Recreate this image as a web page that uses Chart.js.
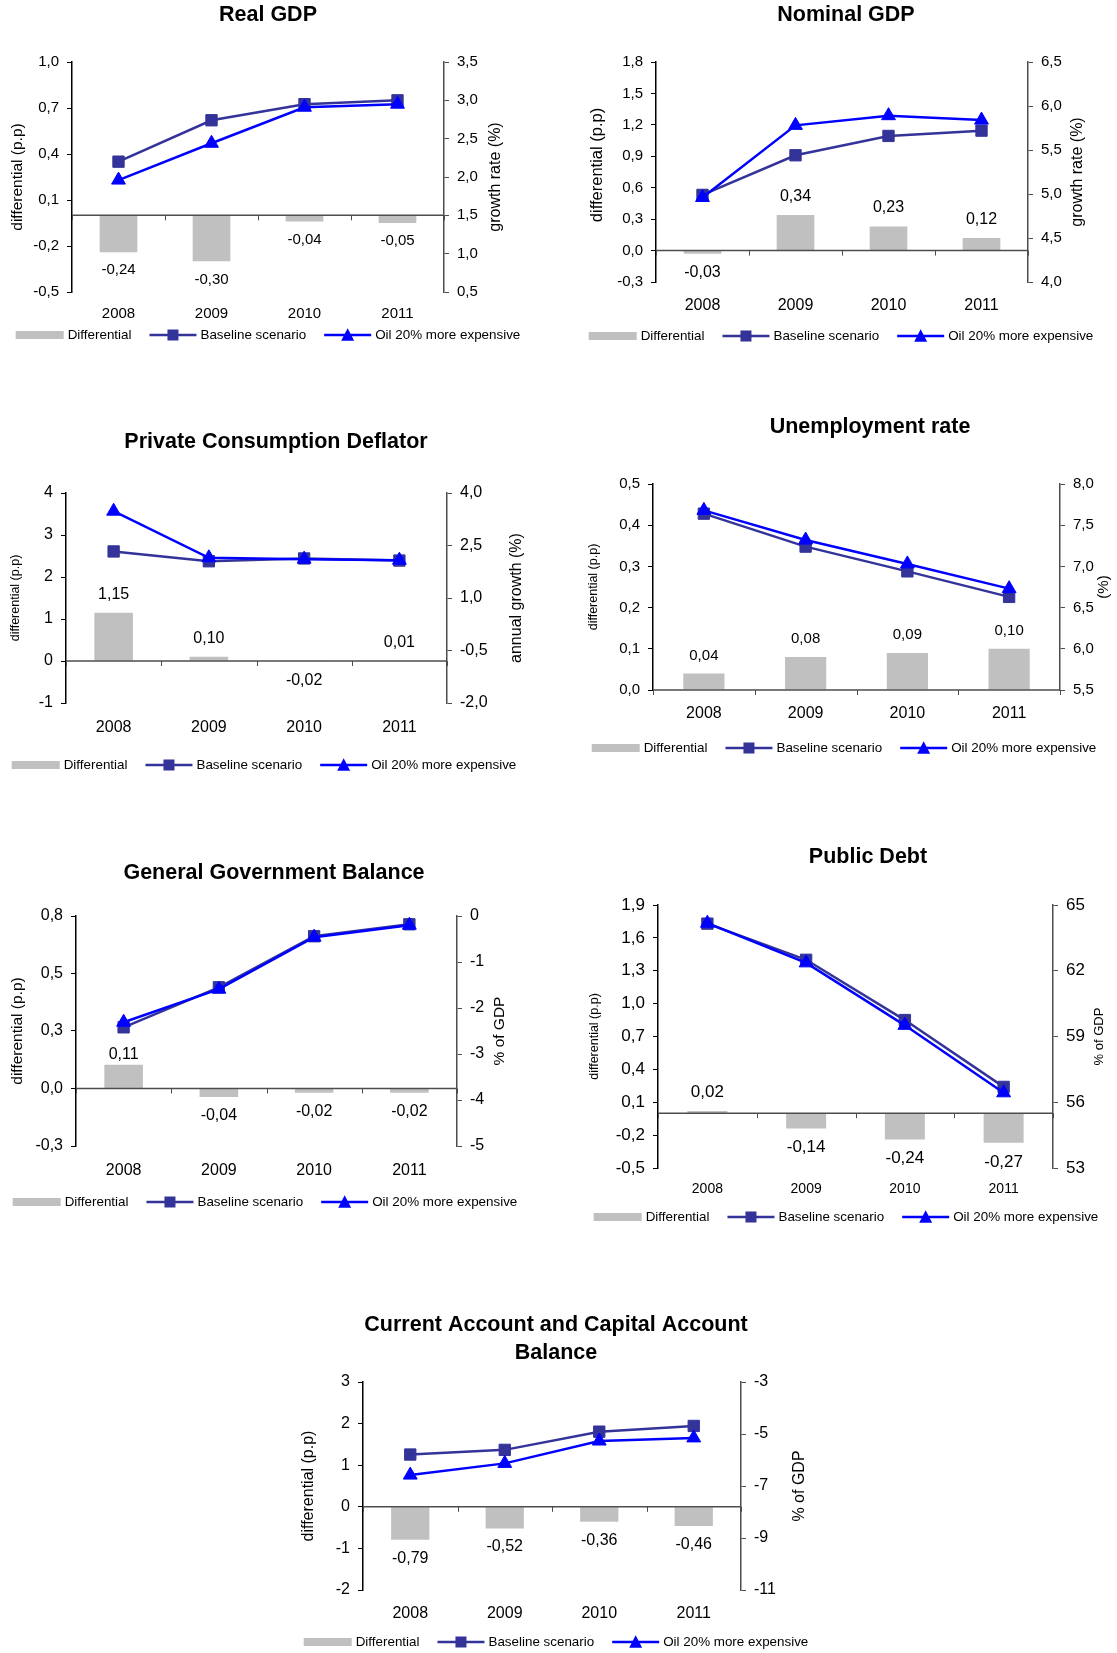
<!DOCTYPE html>
<html><head><meta charset="utf-8">
<script src="https://cdn.jsdelivr.net/npm/chart.js@4.4.1/dist/chart.umd.min.js"></script>
<style>
html,body{margin:0;padding:0;background:#fff;}
body{width:1117px;height:1653px;position:relative;overflow:hidden;}
canvas{position:absolute;}
</style></head><body>
<script>
// ---------- DATA ----------
const years = ['2008','2009','2010','2011'];
const seriesNames = ['Differential','Baseline scenario','Oil 20% more expensive'];

const realGdpDiff = [-0.24,-0.30,-0.04,-0.05];
const realGdpBase = [2.20,2.74,2.95,3.00];
const realGdpOil  = [1.96,2.44,2.91,2.95];
const realGdpLeftTicks  = [-0.5,-0.2,0.1,0.4,0.7,1.0];
const realGdpRightTicks = [0.5,1.0,1.5,2.0,2.5,3.0,3.5];

const nomGdpDiff = [-0.03,0.34,0.23,0.12];
const nomGdpBase = [4.99,5.44,5.66,5.72];
const nomGdpOil  = [4.96,5.78,5.89,5.84];
const nomGdpLeftTicks  = [-0.3,0.0,0.3,0.6,0.9,1.2,1.5,1.8];
const nomGdpRightTicks = [4.0,4.5,5.0,5.5,6.0,6.5];

const pcdDiff = [1.15,0.10,-0.02,0.01];
const pcdBase = [2.33,2.05,2.13,2.07];
const pcdOil  = [3.48,2.15,2.11,2.08];
const pcdLeftTicks  = [-1,0,1,2,3,4];
const pcdRightTicks = [-2.0,-0.5,1.0,2.5,4.0];

const unempDiff = [0.04,0.08,0.09,0.10];
const unempBase = [7.64,7.24,6.94,6.63];
const unempOil  = [7.68,7.32,7.03,6.73];
const unempLeftTicks  = [0,0.1,0.2,0.3,0.4,0.5];
const unempRightTicks = [5.5,6.0,6.5,7.0,7.5,8.0];

const ggbDiff = [0.11,-0.04,-0.02,-0.02];
const ggbBase = [-2.42,-1.55,-0.44,-0.18];
const ggbOil  = [-2.31,-1.59,-0.46,-0.20];
const ggbLeftTicks  = [-0.2667,0,0.2667,0.5333,0.8];
const ggbRightTicks = [-5,-4,-3,-2,-1,0];

const debtDiff = [0.02,-0.14,-0.24,-0.27];
const debtBase = [64.15,62.50,59.75,56.70];
const debtOil  = [64.17,62.36,59.51,56.43];
const debtLeftTicks  = [-0.5,-0.2,0.1,0.4,0.7,1.0,1.3,1.6,1.9];
const debtRightTicks = [53,56,59,62,65];

const caDiff = [-0.79,-0.52,-0.36,-0.46];
const caBase = [-5.79,-5.61,-4.91,-4.69];
const caOil  = [-6.58,-6.13,-5.27,-5.15];
const caLeftTicks  = [-2,-1,0,1,2,3];
const caRightTicks = [-11,-9,-7,-5,-3];

// ---------- STYLE / LAYOUT ----------
const FONT = "'Liberation Sans', Arial, Helvetica, sans-serif";
const BAR_COLOR = '#C0C0C0', BASE_COLOR = '#333399', OIL_COLOR = '#0000FF', AXIS_GRAY = '#4d4d4d';

const charts = [
 {title:['Real GDP'], tx:268, ty:[15], box:[0,0,556,360], plot:[72,62,444,292],
  diff:realGdpDiff, base:realGdpBase, oil:realGdpOil, lt:realGdpLeftTicks, rt:realGdpRightTicks, ld:1, rd:1,
  lTitle:'differential (p.p)', lTitleX:18, lTitleSize:15.5, rTitle:'growth rate (%)', rTitleX:496, rTitleSize:16,
  tickSize:15, xSize:15, xLabelY:313, dataSize:15, posGap:14, legX:268, legY:335},
 {title:['Nominal GDP'], tx:846, ty:[15], box:[558,0,559,360], plot:[656,62,1028,282],
  diff:nomGdpDiff, base:nomGdpBase, oil:nomGdpOil, lt:nomGdpLeftTicks, rt:nomGdpRightTicks, ld:1, rd:1,
  lTitle:'differential (p.p)', lTitleX:597, lTitleSize:16.5, lTitleY:165, rTitle:'growth rate (%)', rTitleX:1078, rTitleSize:16,
  tickSize:15, xSize:16, xLabelY:305, dataSize:16, posGap:14, legX:841, legY:336},
 {title:['Private Consumption Deflator'], tx:276, ty:[442], box:[0,390,556,400], plot:[66,493,447,703],
  diff:pcdDiff, base:pcdBase, oil:pcdOil, lt:pcdLeftTicks, rt:pcdRightTicks, ld:0, rd:1,
  lTitle:'differential (p.p)', lTitleX:16, lTitleSize:12.5, rTitle:'annual growth (%)', rTitleX:517, rTitleSize:16,
  tickSize:16, xSize:16, xLabelY:727, dataSize:16, posGap:14, legX:264, legY:765},
 {title:['Unemployment rate'], tx:870, ty:[427], box:[558,390,559,400], plot:[653,484,1060,690],
  diff:unempDiff, base:unempBase, oil:unempOil, lt:unempLeftTicks, rt:unempRightTicks, ld:1, rd:1,
  lTitle:'differential (p.p)', lTitleX:594, lTitleSize:12.5, rTitle:'(%)', rTitleX:1104, rTitleSize:15,
  tickSize:15, xSize:16, xLabelY:713, dataSize:15, posGap:14, legX:844, legY:748},
 {title:['General Government Balance'], tx:274, ty:[873], box:[0,830,556,410], plot:[76,916,457,1146],
  diff:ggbDiff, base:ggbBase, oil:ggbOil, lt:ggbLeftTicks, rt:ggbRightTicks, ld:1, rd:0,
  lTitle:'differential (p.p)', lTitleX:18, lTitleSize:15.5, rTitle:'% of GDP', rTitleX:500, rTitleSize:15.5,
  tickSize:16, xSize:16, xLabelY:1170, dataSize:16, posGap:6, legX:265, legY:1202},
 {title:['Public Debt'], tx:868, ty:[857], box:[558,830,559,410], plot:[658,905,1053,1168],
  diff:debtDiff, base:debtBase, oil:debtOil, lt:debtLeftTicks, rt:debtRightTicks, ld:1, rd:0,
  lTitle:'differential (p.p)', lTitleX:595, lTitleSize:12.5, rTitle:'% of GDP', rTitleX:1099, rTitleSize:13,
  tickSize:17, xSize:14, xLabelY:1188, dataSize:17, posGap:14, legX:846, legY:1217},
 {title:['Current Account and Capital Account','Balance'], tx:556, ty:[1325,1353], box:[280,1290,540,363], plot:[363,1382,741,1590],
  diff:caDiff, base:caBase, oil:caOil, lt:caLeftTicks, rt:caRightTicks, ld:0, rd:0,
  lTitle:'differential (p.p)', lTitleX:309, lTitleSize:16, rTitle:'% of GDP', rTitleX:800, rTitleSize:16,
  tickSize:16, xSize:16, xLabelY:1613, dataSize:16, posGap:14, legX:556, legY:1642}
];

function fmt(v, d){
  let s = Number(v).toFixed(d);
  if (parseFloat(s) === 0) s = (0).toFixed(d);
  return s.replace('.', ',');
}

function drawTri(ctx, x, y, w, color){
  const h = w*0.9;
  ctx.fillStyle = color;
  ctx.beginPath();
  ctx.moveTo(x, y - h/2 - 1);
  ctx.lineTo(x + w/2, y + h/2);
  ctx.lineTo(x - w/2, y + h/2);
  ctx.closePath();
  ctx.fill();
}

function decor(c){
  const [bx,by,bw,bh] = c.box;
  const [pl,pt,pr,pb] = c.plot;
  return {
    id:'decor',
    afterDatasetDraw(chart, args){
      if (args.index !== 0) return;
      const ctx = chart.ctx, xs = chart.scales.x, yL = chart.scales.yL, a = chart.chartArea;
      const y0 = yL.getPixelForValue(0);
      ctx.save();
      ctx.strokeStyle = AXIS_GRAY; ctx.lineWidth = 1.5;
      ctx.beginPath(); ctx.moveTo(a.left, y0); ctx.lineTo(a.right, y0); ctx.stroke();
      ctx.lineWidth = 1;
      const step = xs.getPixelForValue(1) - xs.getPixelForValue(0);
      ctx.beginPath();
      for (let i = 0; i <= years.length; i++){
        const x = Math.round(xs.getPixelForValue(0) - step/2 + i*step) + 0.5;
        ctx.moveTo(x, y0); ctx.lineTo(x, y0 + 5);
      }
      ctx.stroke();
      const meta = chart.getDatasetMeta(0);
      ctx.fillStyle = '#000'; ctx.font = c.dataSize + 'px ' + FONT;
      ctx.textAlign = 'center'; ctx.textBaseline = 'alphabetic';
      meta.data.forEach((bar, i) => {
        const v = chart.data.datasets[0].data[i];
        const y = v >= 0 ? bar.y - c.posGap : bar.y + 11.5 + 0.72*c.dataSize;
        ctx.fillText(fmt(v,2), bar.x, y);
      });
      ctx.restore();
    },
    afterDraw(chart){
      const ctx = chart.ctx;
      ctx.save();
      ctx.fillStyle = '#000'; ctx.textAlign = 'center'; ctx.textBaseline = 'middle';
      ctx.font = 'bold 21.5px ' + FONT;
      c.title.forEach((t, i) => ctx.fillText(t, c.tx - bx, c.ty[i] - by));
      const midY = (pt + pb)/2;
      [[c.lTitle, c.lTitleX, c.lTitleSize, c.lTitleY || midY],[c.rTitle, c.rTitleX, c.rTitleSize, c.rTitleY || midY]].forEach(([t,x,s,y]) => {
        ctx.save();
        ctx.translate(x - bx, y - by);
        ctx.rotate(-Math.PI/2);
        ctx.font = s + 'px ' + FONT;
        ctx.fillText(t, 0, 0);
        ctx.restore();
      });
      // legend
      const fs = 13.4, rectW = 48, rectH = 8, symW = 47, g = 4, gapItems = 18;
      ctx.font = fs + 'px ' + FONT;
      const tw = seriesNames.map(n => ctx.measureText(n).width);
      const total = rectW + g + tw[0] + gapItems + symW + g + tw[1] + gapItems + symW + g + tw[2];
      let x = (c.legX - bx) - total/2;
      const y = c.legY - by;
      ctx.textAlign = 'left'; ctx.textBaseline = 'middle';
      ctx.fillStyle = BAR_COLOR; ctx.fillRect(x, y - rectH/2, rectW, rectH);
      x += rectW + g; ctx.fillStyle = '#000'; ctx.fillText(seriesNames[0], x, y); x += tw[0] + gapItems;
      ctx.strokeStyle = BASE_COLOR; ctx.lineWidth = 2.5;
      ctx.beginPath(); ctx.moveTo(x, y); ctx.lineTo(x + symW, y); ctx.stroke();
      ctx.fillStyle = BASE_COLOR; ctx.fillRect(x + symW/2 - 5.5, y - 5.5, 11, 11);
      x += symW + g; ctx.fillStyle = '#000'; ctx.fillText(seriesNames[1], x, y); x += tw[1] + gapItems;
      ctx.strokeStyle = OIL_COLOR;
      ctx.beginPath(); ctx.moveTo(x, y); ctx.lineTo(x + symW, y); ctx.stroke();
      drawTri(ctx, x + symW/2, y, 13, OIL_COLOR);
      x += symW + g; ctx.fillStyle = '#000'; ctx.fillText(seriesNames[2], x, y);
      ctx.restore();
    }
  };
}

charts.forEach(c => {
  const [bx,by,bw,bh] = c.box;
  const [pl,pt,pr,pb] = c.plot;
  const cv = document.createElement('canvas');
  cv.width = bw; cv.height = bh;
  cv.style.left = bx + 'px'; cv.style.top = by + 'px';
  cv.style.width = bw + 'px'; cv.style.height = bh + 'px';
  document.body.appendChild(cv);
  new Chart(cv, {
    type: 'bar',
    data: {
      labels: years,
      datasets: [
        {type:'bar', label:seriesNames[0], data:c.diff, yAxisID:'yL', backgroundColor:BAR_COLOR,
         barPercentage:0.405, categoryPercentage:1, order:2},
        {type:'line', label:seriesNames[1], data:c.base, yAxisID:'yR', borderColor:BASE_COLOR, backgroundColor:BASE_COLOR,
         borderWidth:2.5, pointStyle:'rect', pointRadius:8, pointBorderWidth:1, pointBackgroundColor:BASE_COLOR,
         pointBorderColor:BASE_COLOR, tension:0, fill:false, order:1},
        {type:'line', label:seriesNames[2], data:c.oil, yAxisID:'yR', borderColor:OIL_COLOR, backgroundColor:OIL_COLOR,
         borderWidth:2.5, pointStyle:'triangle', pointRadius:8, pointBorderWidth:1, pointBackgroundColor:OIL_COLOR,
         pointBorderColor:OIL_COLOR, tension:0, fill:false, order:0}
      ]
    },
    options: {
      responsive:false, animation:false, devicePixelRatio:1, events:[],
      layout:{padding:{top: pt - by, left:0, right:0, bottom:0}},
      plugins:{legend:{display:false}, title:{display:false}, tooltip:{enabled:false}},
      scales: {
        x: {type:'category', offset:true, grid:{display:false, drawTicks:false}, border:{display:false},
            ticks:{color:'#000', font:{family:FONT, size:c.xSize}, padding: c.xLabelY - pb - 0.55*c.xSize, maxRotation:0, autoSkip:false},
            afterFit: s => { s.height = by + bh - pb; }},
        yL: {type:'linear', position:'left', min:c.lt[0], max:c.lt[c.lt.length-1],
             afterBuildTicks: s => { s.ticks = c.lt.map(v => ({value:v})); },
             ticks:{autoSkip:false, color:'#000', font:{family:FONT, size:c.tickSize}, padding:8, callback: v => fmt(v, c.ld)},
             grid:{drawOnChartArea:false, drawTicks:true, tickLength:5, color:'#000', lineWidth:1},
             border:{display:true, color:'#000', width:1.5},
             afterFit: s => { s.width = pl - bx; }},
        yR: {type:'linear', position:'right', min:c.rt[0], max:c.rt[c.rt.length-1],
             afterBuildTicks: s => { s.ticks = c.rt.map(v => ({value:v})); },
             ticks:{autoSkip:false, color:'#000', font:{family:FONT, size:c.tickSize}, padding:8, callback: v => fmt(v, c.rd)},
             grid:{drawOnChartArea:false, drawTicks:true, tickLength:5, color:AXIS_GRAY, lineWidth:1},
             border:{display:true, color:AXIS_GRAY, width:1.5},
             afterFit: s => { s.width = bx + bw - pr; }}
      }
    },
    plugins:[decor(c)]
  });
});
</script>
</body></html>
